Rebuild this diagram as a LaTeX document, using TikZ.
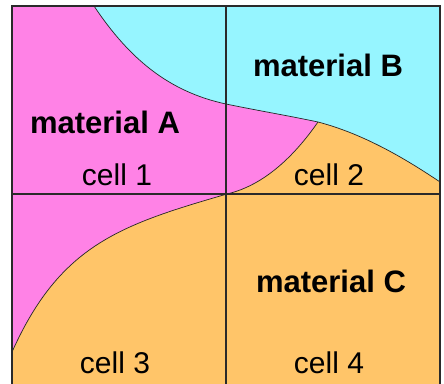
\documentclass[tikz,border=0pt]{standalone}
\usepackage{fontspec}
\setmainfont{Liberation Sans}
\definecolor{matA}{HTML}{FF82E6}
\definecolor{matB}{HTML}{96F5FF}
\definecolor{matC}{HTML}{FFC569}
\definecolor{gridc}{HTML}{2A2A2A}
\tikzset{
  boundary/.style={draw=black!85, line width=0.7pt},
  gridline/.style={draw=gridc, line width=1.1pt},
  bigbold/.style={font=\fontsize{31}{36}\selectfont\bfseries, anchor=base, inner sep=0pt},
  celltext/.style={font=\fontsize{30}{36}\selectfont, anchor=base, inner sep=0pt}
}
\begin{document}
\begin{tikzpicture}[x=1pt,y=-1pt]
\useasboundingbox (0,0) rectangle (444,383);
\begin{scope}
\clip (0,0) rectangle (444,383);
% material A background
\fill[matA] (12,6) rectangle (440,395);
% material B
\fill[matB] (94,6) .. controls (130,60) and (170,92) .. (226,104)
  .. controls (260,111) and (290,116) .. (318,122)
  .. controls (360,133) and (400,155) .. (440,182)
  -- (440,6) -- cycle;
% material C
\fill[matC] (440,182) .. controls (400,155) and (360,133) .. (318,122)
  .. controls (295,155) and (265,185) .. (227,194)
  .. controls (120,225) and (60,245) .. (12,352)
  -- (12,395) -- (440,395) -- cycle;
% boundaries
\draw[boundary] (94,6) .. controls (130,60) and (170,92) .. (226,104)
  .. controls (260,111) and (290,116) .. (318,122)
  .. controls (360,133) and (400,155) .. (440,182);
\draw[boundary] (318,122) .. controls (295,155) and (265,185) .. (227,194)
  .. controls (120,225) and (60,245) .. (12,352);
% cell grid
\coordinate (tl) at (12,6);
\coordinate (br) at (440,395);
\coordinate (vt) at (226,6);
\coordinate (vb) at (226,395);
\coordinate (hl) at (12,194);
\coordinate (hr) at (440,194);
\draw[gridline] (tl) rectangle (br);
\draw[gridline] (vt) -- (vb);
\draw[gridline] (hl) -- (hr);
\end{scope}
% labels
\node[bigbold] (mA) at (105,133) {material A};
\node[celltext] (c1) at (117,185) {cell 1};
\node[bigbold] (mB) at (328,76) {material B};
\node[celltext] (c2) at (329,185) {cell 2};
\node[bigbold] (mC) at (331,292) {material C};
\node[celltext] (c3) at (115,373) {cell 3};
\node[celltext] (c4) at (329,373) {cell 4};
\end{tikzpicture}
\end{document}
